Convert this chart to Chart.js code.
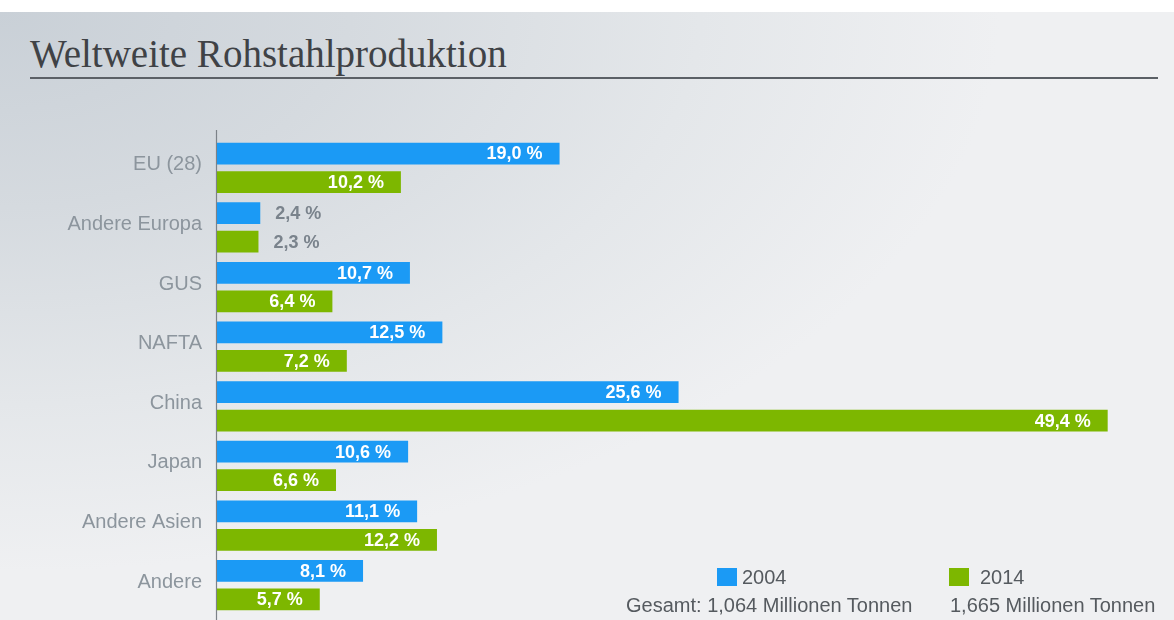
<!DOCTYPE html>
<html><head><meta charset="utf-8">
<script src="https://cdn.jsdelivr.net/npm/chart.js@4"></script>
<style>
html,body{margin:0;padding:0;background:#fff;}
#wrap{position:relative;width:1174px;height:620px;overflow:hidden;background:#fff;}
#bg{position:absolute;left:0;top:12px;width:1174px;height:608px;background-color:#eff0f2;
 background-image:radial-gradient(ellipse 1000px 560px at 0 0,#c9d0d7 0%,#d5dadf 35%,#e4e7ea 70%,#eff0f2 100%);}
#title{position:absolute;left:30px;top:34px;font:39px "Liberation Serif",serif;line-height:1;color:#3f4246;white-space:nowrap;}
#rule{position:absolute;left:30px;top:77px;width:1128px;height:2px;background:#5b6066;}
#c{position:absolute;left:0;top:0;}
.sq{position:absolute;width:20px;height:18px;}
.lt{position:absolute;font:20px "Liberation Sans",Arial,sans-serif;color:#555a5f;white-space:nowrap;line-height:20px;}
</style></head>
<body>
<div id="wrap">
 <div id="bg"></div>
 <div id="title">Weltweite Rohstahlproduktion</div>
 <div id="rule"></div>
 <canvas id="c" width="1174" height="620"></canvas>
 <div id="legend"></div>
</div>
<script>
const categories = ['EU (28)','Andere Europa','GUS','NAFTA','China','Japan','Andere Asien','Andere'];
const values2004 = [19.0, 2.4, 10.7, 12.5, 25.6, 10.6, 11.1, 8.1];
const values2014 = [10.2, 2.3, 6.4, 7.2, 49.4, 6.6, 12.2, 5.7];
const seriesNames = ['2004','2014'];
const seriesTotals = ['Gesamt: 1,064 Millionen Tonnen','1,665 Millionen Tonnen'];
const seriesColors = ['#1b9af5','#7db700'];

function fmt(v){ return v.toFixed(1).replace('.',',') + ' %'; }

const axisLine = {
  id:'axisLine',
  beforeDatasetsDraw(chart){
    const ctx = chart.ctx, x = Math.round(chart.chartArea.left) - 0.5;
    ctx.save();
    ctx.strokeStyle = '#7c8288'; ctx.lineWidth = 1.2;
    ctx.beginPath(); ctx.moveTo(x,130); ctx.lineTo(x,620); ctx.stroke();
    ctx.restore();
  }
};
const valueLabels = {
  id:'valueLabels',
  afterDatasetsDraw(chart){
    const ctx = chart.ctx;
    ctx.save();
    ctx.font = 'bold 18px "Liberation Sans", Arial, sans-serif';
    ctx.textBaseline = 'middle';
    chart.data.datasets.forEach((ds,di)=>{
      chart.getDatasetMeta(di).data.forEach((el,i)=>{
        const v = ds.data[i];
        if (v < 4) {
          ctx.textAlign = 'left'; ctx.fillStyle = '#7a838c';
          ctx.fillText(fmt(v), el.x + 15, el.y + 1);
        } else {
          ctx.textAlign = 'right'; ctx.fillStyle = '#ffffff';
          ctx.fillText(fmt(v), el.x - 17, el.y + 1);
        }
      });
    });
    ctx.restore();
  }
};

new Chart(document.getElementById('c'), {
  type:'bar',
  data:{
    labels: categories,
    datasets:[
      {label:seriesNames[0], data:values2004, backgroundColor:seriesColors[0], borderWidth:0, categoryPercentage:0.96, barPercentage:0.76},
      {label:seriesNames[1], data:values2014, backgroundColor:seriesColors[1], borderWidth:0, categoryPercentage:0.96, barPercentage:0.76}
    ]
  },
  options:{
    indexAxis:'y',
    responsive:false,
    animation:false,
    devicePixelRatio:1,
    layout:{padding:{left:0,right:55.5,top:138,bottom:5}},
    plugins:{legend:{display:false},tooltip:{enabled:false},title:{display:false}},
    scales:{
      x:{display:false,min:0,max:50},
      y:{
        grid:{display:false,drawTicks:false},
        border:{display:false},
        ticks:{font:{family:'"Liberation Sans", Arial, sans-serif',size:20},color:'#8c959d',padding:15,labelOffset:-3},
        afterFit(s){ s.width = 217; s.paddingTop = 0; s.paddingBottom = 0; }
      }
    }
  },
  plugins:[axisLine,valueLabels]
});

// legend
const leg = document.getElementById('legend');
const legPos = [{sq:717, txt:742, tot:626},{sq:949, txt:980, tot:950}];
seriesNames.forEach((n,i)=>{
  const sq = document.createElement('div'); sq.className='sq';
  sq.style.left = legPos[i].sq+'px'; sq.style.top='568px'; sq.style.background=seriesColors[i];
  const t = document.createElement('div'); t.className='lt'; t.textContent=n;
  t.style.left = legPos[i].txt+'px'; t.style.top='567px';
  const tt = document.createElement('div'); tt.className='lt'; tt.textContent=seriesTotals[i];
  tt.style.left = legPos[i].tot+'px'; tt.style.top='595px';
  leg.appendChild(sq); leg.appendChild(t); leg.appendChild(tt);
});
</script>
</body></html>
